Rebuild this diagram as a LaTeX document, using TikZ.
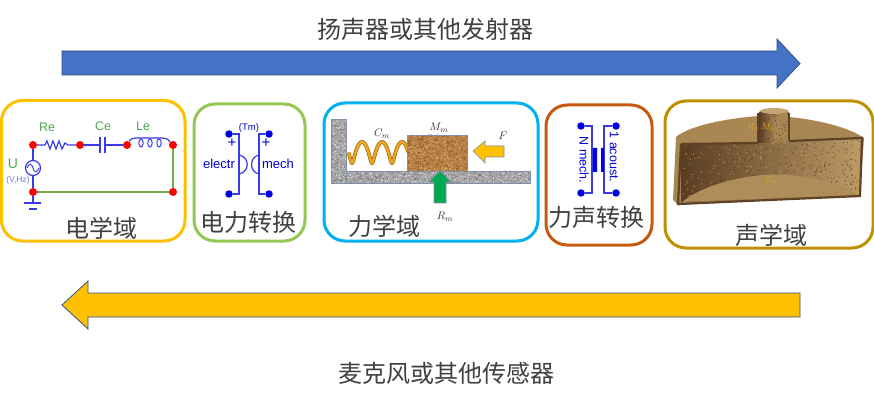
\documentclass[tikz,border=0pt]{standalone}
\usepackage{fontspec}
\setmainfont{Liberation Sans}
\newfontfamily\cjk{Noto Sans CJK SC}
\usetikzlibrary{shadings}
\definecolor{wireblue}{HTML}{3A3AE6}
\definecolor{wiregreen}{HTML}{70AD47}
\definecolor{labelgreen}{HTML}{4FA84F}
\definecolor{txt}{HTML}{404040}
\definecolor{edgeblue}{HTML}{2F528F}
\definecolor{stone}{HTML}{A5A5A5}
\definecolor{stoneedge}{HTML}{8090A8}
\definecolor{wood}{HTML}{B87F45}
\definecolor{wooddark}{HTML}{8A5A2A}
\definecolor{woodlight}{HTML}{D9A870}
\definecolor{acou}{HTML}{A98752}
\definecolor{acoufloor}{HTML}{AE8D5A}
\definecolor{acoudark}{HTML}{5E4226}
\definecolor{acouspeck}{HTML}{7C5C36}
\definecolor{acoulight}{HTML}{C4A472}
\definecolor{wall1}{HTML}{5A3D22}
\definecolor{wall2}{HTML}{7E5E38}
\definecolor{wall3}{HTML}{BD9A66}
\definecolor{arrowblue}{HTML}{4472C4}
\definecolor{arrowgold}{HTML}{FFC000}
\definecolor{arrowgreen}{HTML}{00A850}
\definecolor{springgold}{HTML}{EBA51E}
\definecolor{springdark}{HTML}{9A6A14}
\definecolor{acolabel}{HTML}{E0A528}
\definecolor{b1}{HTML}{FFC000}
\definecolor{b2}{HTML}{92C853}
\definecolor{b3}{HTML}{00B0F0}
\definecolor{b4}{HTML}{C55A11}
\definecolor{b5}{HTML}{BF9000}
\tikzset{
 domainbox/.style={draw=#1,line width=3pt,rounded corners=21pt,fill=white},
 cjklabel/.style={font=\cjk\fontsize{24}{24}\selectfont,text=txt,inner sep=0pt},
 bigarrow/.style={fill=#1,draw=edgeblue,line width=0.8pt},
 reddot/.style={circle,fill=red,inner sep=0pt,minimum size=8pt},
 bluedot/.style={circle,fill=blue!90!black,inner sep=0pt,minimum size=7.5pt},
 wire/.style={draw=wireblue,line width=1.2pt},
 gwire/.style={draw=wiregreen,line width=1.3pt},
 tlabel/.style={inner sep=0pt,font=\fontsize{13}{13}\selectfont,text=blue!85!black},
 clabel/.style={inner sep=0pt,font=\fontsize{12.5}{13}\selectfont,text=labelgreen},
 mathlabel/.style={inner sep=0pt,font=\fontsize{11}{11}\selectfont,text=black!80},
 aclabel/.style={inner sep=0pt,font=\fontsize{9.5}{10}\selectfont,text=acolabel},
}
\newcommand{\speckle}[7]{\foreach \i in {1,...,#5}{\fill[#6] ({#1+rnd*(#3-#1)},{#2+rnd*(#4-#2)}) circle (#7);}}
\begin{document}
\begin{tikzpicture}[x=1pt,y=-1pt]
\pgfmathsetseed{7}
\useasboundingbox (0,0) rectangle (874,403);
\fill[white] (0,0) rectangle (874,403);
% big arrows
\draw[bigarrow=arrowblue] (62,51) -- (777,51) -- (777,39) -- (800,63.5) -- (777,88) -- (777,75) -- (62,75) -- cycle;
\draw[bigarrow=arrowgold] (800,293) -- (88,293) -- (88,281) -- (62,305) -- (88,329) -- (88,317) -- (800,317) -- cycle;
\node[cjklabel] (toptext) at (425,29) {扬声器或其他发射器};
\node[cjklabel] (bottext) at (446,373) {麦克风或其他传感器};
% domain boxes
\draw[domainbox=b1] (1.5,100.5) rectangle (185,241);
\draw[domainbox=b2] (194,104) rectangle (305,241);
\draw[domainbox=b3] (324,103) rectangle (538,241);
\draw[domainbox=b4] (546,105) rectangle (652,245);
\draw[domainbox=b5] (665,101) rectangle (873,248);
% electrical
\node[reddot] (e1) at (33,145) {};
\node[reddot] (e2) at (80,145) {};
\node[reddot] (e3) at (127,145) {};
\node[reddot] (e4) at (173,145) {};
\node[reddot] (e5) at (173,192) {};
\node[reddot] (e6) at (33,192) {};
\node[circle,draw=wireblue,line width=1.2pt,inner sep=0pt,minimum size=15pt] (src) at (33,168) {};
\draw[wireblue,line width=0.9pt] (27,168) .. controls (29,163) and (32,163) .. (33,168) .. controls (34,173) and (37,173) .. (39,168);
\draw[wire] (e1) -- (src);
\draw[wire] (src) -- (e6);
\draw[wire] (e1) -- (45,145) -- (47,141) -- (50,149) -- (53,141) -- (56,149) -- (59,141) -- (62,149) -- (65,143) -- (68,145) -- (e2);
\coordinate (cL) at (100,145); \coordinate (cR) at (105,145);
\draw[wire] (e2) -- (cL);
\draw[wire] (cR) -- (e3);
\draw[wireblue,line width=1.4pt] (100,137) -- (100,153) (105,137) -- (105,153);
\draw[wire] (e3) .. controls (129,142) and (130,138) .. (136,138) -- (163,138) .. controls (168,138) and (170,142) .. (e4);
\foreach \cx in {141,150,159}{\draw[wireblue,line width=1pt] (\cx,143) ellipse (2.2 and 4);}
\draw[gwire] (e4) -- (e5);
\draw[gwire] (e5) -- (e6);
\coordinate (g1) at (33,203);
\draw[wire] (e6) -- (g1);
\draw[wireblue,line width=1.3pt] (24,203) -- (41,203) (29,209) -- (37,209);
\node[clabel] (re) at (47,127) {Re};
\node[clabel] (ce) at (103,126) {Ce};
\node[clabel] (le) at (143,126) {Le};
\node[clabel,font=\fontsize{14}{14}\selectfont] (u) at (13,164) {U};
\node[tlabel,font=\fontsize{8.5}{9}\selectfont,text=wireblue!70] (vhz) at (18,180) {(V,Hz)};
\node[cjklabel] (l1) at (101,228) {电学域};
% transducer 1
\node[bluedot] (t1) at (229,134) {};
\node[bluedot] (t2) at (229,194) {};
\node[bluedot] (t3) at (269,134) {};
\node[bluedot] (t4) at (269,194) {};
\draw[wire] (t1) -- (239,134) -- (239,194) -- (t2);
\draw[wire] (t3) -- (259,134) -- (259,194) -- (t4);
\draw[wire] (239,155) .. controls (250,157) and (250,172) .. (239,174);
\draw[wire] (259,155) .. controls (249,157) and (249,172) .. (259,174);
\node[tlabel,font=\fontsize{15}{15}\selectfont] (p1) at (232,143) {+};
\node[tlabel,font=\fontsize{15}{15}\selectfont] (p2) at (266,143) {+};
\node[tlabel] (elec) at (219,164) {electr};
\node[tlabel] (mech) at (278,164) {mech};
\node[tlabel,font=\fontsize{9.5}{10}\selectfont] (tm) at (249,128) {(Tm)};
\node[cjklabel] (l2) at (248,222) {电力转换};
% mechanical: wall and floor
\fill[stone] (331,119) rectangle (346,183);
\fill[stone] (346,171) rectangle (530,183);
\begin{scope}
\clip (331,119) rectangle (346,183);
\speckle{331}{119}{346}{183}{110}{black!55}{0.65}
\speckle{331}{119}{346}{183}{110}{black!12}{0.65}
\end{scope}
\begin{scope}
\clip (346,171) rectangle (530,183);
\speckle{346}{171}{530}{183}{260}{black!55}{0.65}
\speckle{346}{171}{530}{183}{260}{black!12}{0.65}
\end{scope}
\draw[stoneedge,line width=0.7pt] (331,119) -- (346,119) -- (346,171) -- (530,171) -- (530,183) -- (331,183) -- cycle;
\draw[stoneedge,line width=0.7pt] (346,171) -- (346,183);
% spring
\draw[domain=347:407,samples=120,line width=3.8pt,color=springdark] plot ({\x+1.5*sin(18*(\x-362))},{152.5-10.5*cos(18*(\x-362))});
\draw[domain=347:407,samples=120,line width=2.5pt,color=springgold] plot ({\x+1.5*sin(18*(\x-362))},{152.5-10.5*cos(18*(\x-362))});
% block
\fill[wood] (407,135) rectangle (467,171);
\begin{scope}
\clip (407,135) rectangle (467,171);
\speckle{407}{135}{467}{171}{240}{wooddark}{0.75}
\speckle{407}{135}{467}{171}{240}{woodlight}{0.75}
\end{scope}
\draw[stoneedge,line width=0.7pt] (407,135) rectangle (467,171);
\draw[fill=arrowgold,draw=stoneedge,line width=0.6pt] (473,151) -- (485,141) -- (485,146) -- (504,146) -- (504,157) -- (485,157) -- (485,163) -- cycle;
\draw[fill=arrowgreen,draw=stoneedge,line width=0.6pt] (440,171) -- (451,182) -- (446,182) -- (446,203) -- (434,203) -- (434,182) -- (429,182) -- cycle;
\node[mathlabel] (cm) at (382,134) {$C_m$};
\node[mathlabel] (mm) at (439,128) {$M_m$};
\node[mathlabel] (ff) at (503,136) {$F$};
\node[mathlabel] (rm) at (445,217) {$R_m$};
\node[cjklabel] (l3) at (384,226) {力学域};
% transducer 2
\node[bluedot] (a1) at (581,126) {};
\node[bluedot] (a2) at (581,193) {};
\node[bluedot] (a3) at (616,126) {};
\node[bluedot] (a4) at (616,193) {};
\draw[wire] (a1) -- (592,126) -- (592,193) -- (a2);
\draw[wire] (a3) -- (604,126) -- (604,193) -- (a4);
\fill[blue!90!black] (593,148) rectangle (597,172) (601,148) rectangle (604,172);
\node[tlabel,rotate=-90,font=\fontsize{12.5}{13}\selectfont] (nm) at (584,160) {N mech.};
\node[tlabel,rotate=-90,font=\fontsize{12.5}{13}\selectfont] (ac) at (614,157) {1 acoust.};
\node[cjklabel] (l4) at (596,217) {力声转换};
% acoustic: body
\fill[acou] (676,137) .. controls (690,125) and (730,118) .. (759,116) -- (759,112) .. controls (765,108) and (783,108) .. (789,112) -- (789,117) .. controls (820,120) and (850,128) .. (864,138) -- (860,196) -- (678,205) -- (673,200) -- cycle;
% acoustic: inner wall
\begin{scope}
\clip (681,144) -- (758,143) -- (789,141) -- (862,138) -- (859,195) -- (681,202) -- cycle;
\shade[left color=wall1,middle color=wall2,right color=wall3] (681,135) rectangle (862,205);
\speckle{681}{138}{862}{205}{420}{wall1}{0.55}
\speckle{681}{138}{862}{205}{300}{acoulight}{0.55}
\fill[acoufloor] (681,203) .. controls (710,178) and (770,172) .. (790,175) .. controls (820,178) and (845,185) .. (859,196) -- cycle;
\end{scope}
% acoustic: chimney cut
\shade[left color=wall1,right color=acou] (759,113) rectangle (775,143);
\fill[acou] (775,113) rectangle (789,143);
\begin{scope}
\clip (759,113) rectangle (789,143);
\speckle{759}{113}{789}{143}{90}{wall1}{0.5}
\end{scope}
\draw[acoudark,line width=2.2pt] (681,144) -- (758,143) (789,141) -- (862,138) -- (860,196) -- (678,204) -- (681,144);
\draw[acoudark,line width=1.3pt] (758,113) -- (758,143) (789,113) -- (789,141);
\fill[acoulight] (759,111) .. controls (765,107) and (783,107) .. (789,111) .. controls (783,115) and (765,115) .. (759,111) -- cycle;
\node[aclabel] (ra) at (753,127) {$R_a$};
\node[aclabel] (ma) at (768,127) {$M_a$};
\node[aclabel] (ca) at (771,180) {$C_a$};
\node[cjklabel] (l5) at (771,235) {声学域};
\end{tikzpicture}
\end{document}
